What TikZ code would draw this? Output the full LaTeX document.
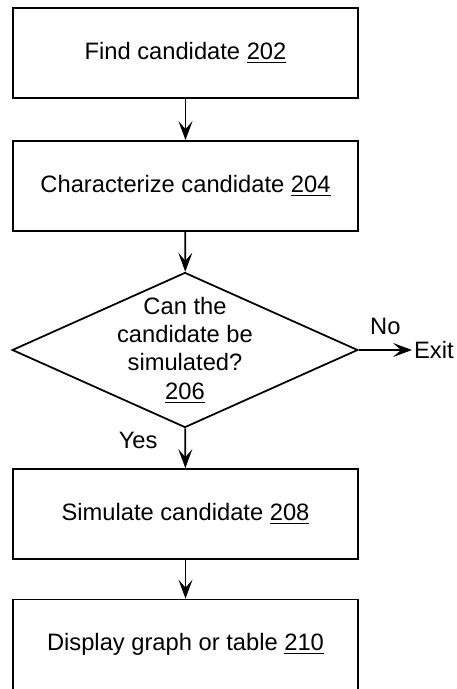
\documentclass[tikz,border=0pt]{standalone}
\usepackage{fontspec}
\setmainfont{Liberation Sans}
\usetikzlibrary{arrows.meta}
\usetikzlibrary{shapes.geometric}

\begin{document}
\begin{tikzpicture}[x=0.02cm, y=-0.02cm,
    every node/.style={font=\fontsize{13.5}{16.2}\selectfont},
    stepbox/.style={draw, line width=1pt, rectangle, minimum width=6.9cm, minimum height=1.8cm, inner sep=0pt},
    decision/.style={draw, line width=1pt, diamond, aspect=2.23, minimum width=6.86cm, minimum height=3.08cm, inner sep=-2.4pt, align=center},
    flow/.style={line width=1pt, -{Stealth[length=3.8mm, width=2.8mm, inset=1.6mm]}}]
      \useasboundingbox (0,0) rectangle (456,689);

      \node[stepbox] (find) at (185.5,53) {Find candidate \underline{202}};
      \node[stepbox] (char) at (185.5,186) {Characterize candidate \underline{204}};
      \node[decision] (canSim) at (185,350) {Can the\\candidate be\\simulated?\\\underline{206}};
      \node[stepbox] (sim) at (185.5,514) {Simulate candidate \underline{208}};
      \node[stepbox] (disp) at (185.5,644.5) {Display graph or table \underline{210}};
      \node[anchor=west, inner sep=1pt] (exit) at (412,350) {Exit};

      \draw[flow] (find) -- (char);
      \draw[flow] (char) -- (canSim);
      \draw[flow] (canSim) -- node[pos=0.3, left=12pt] {Yes} (sim);
      \draw[flow] (sim) -- (disp);
      \draw[flow] (canSim.east) -- node[above, yshift=5pt] {No} (exit);
    \end{tikzpicture}
\end{document}
